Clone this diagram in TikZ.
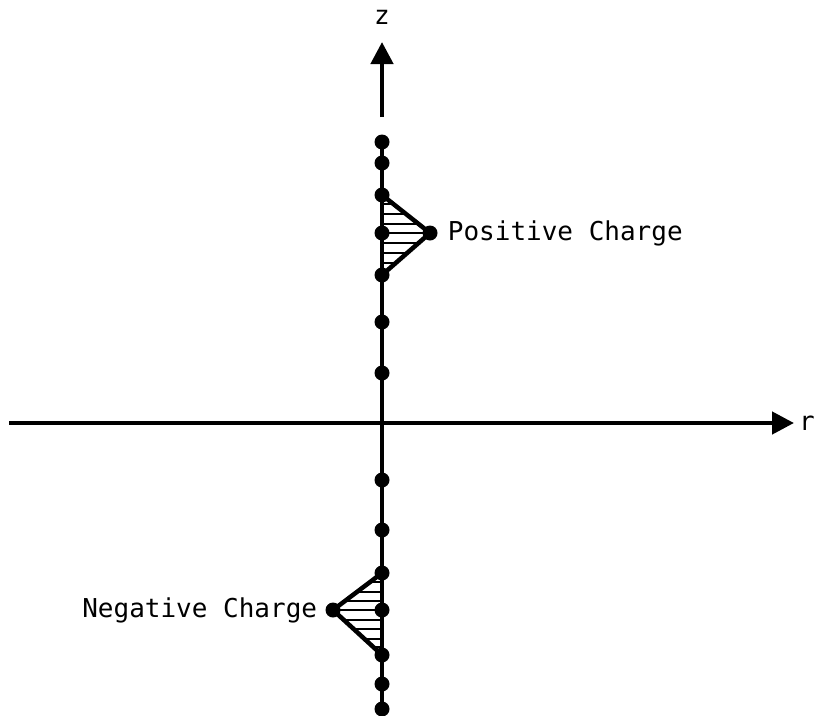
\documentclass[tikz,border=0pt]{standalone}
\usepackage{fontspec}
\setmonofont{DejaVu Sans Mono}
\usetikzlibrary{positioning,arrows.meta}

\begin{document}
\begin{tikzpicture}[x=1pt,y=-1pt,
  chg/.style={circle, fill=black, inner sep=0pt, minimum size=15pt},
  axis/.style={line width=4.5pt, -{Triangle[length=22pt,width=22pt]}},
  rod/.style={line width=4.5pt, line join=round},
  hatch/.style={line width=1.8pt},
  lbl/.style={font=\ttfamily\fontsize{26}{30}\selectfont, inner sep=0pt}]
\useasboundingbox (0,0) rectangle (818,715);
% axes
\coordinate (rs) at (9,423);
\coordinate (re) at (794,423);
\coordinate (zs) at (382,117);
\coordinate (ze) at (382,42);
\draw[axis] (rs) -- (re);
\draw[axis] (zs) -- (ze);
\node[lbl, right=5pt of re] (rlbl) {r};
\node[lbl] (zlbl) at (382,17) {z};
% charges on the rod
\foreach \n/\y in {1/142,2/163,3/195,4/233,5/275,6/322,7/373}
  \node[chg] (t\n) at (382,\y) {};
\foreach \n/\y in {1/480,2/530,3/573,4/610,5/655,6/684,7/709}
  \node[chg] (b\n) at (382,\y) {};
\node[chg] (pa) at (430,233) {};
\node[chg] (na) at (333,610) {};
\draw[rod] (t1.center) -- (b7.center);
% positive charge
\begin{scope}
  \clip (t3.center) -- (pa.center) -- (t5.center) -- cycle;
  \foreach \y in {204,214,224,233,243,253,263}
    \draw[hatch] (382,\y) -- (432,\y);
\end{scope}
\draw[rod] (t3.center) -- (pa.center) -- (t5.center);
% negative charge
\begin{scope}
  \clip (b3.center) -- (na.center) -- (b5.center) -- cycle;
  \foreach \y in {582,592,601,610,620,629,639,647}
    \draw[hatch] (330,\y) -- (382,\y);
\end{scope}
\draw[rod] (b3.center) -- (na.center) -- (b5.center);
\node[lbl, right=10pt of pa] (plbl) {Positive Charge};
\node[lbl, left=8pt of na] (nlbl) {Negative Charge};
\end{tikzpicture}
\end{document}
